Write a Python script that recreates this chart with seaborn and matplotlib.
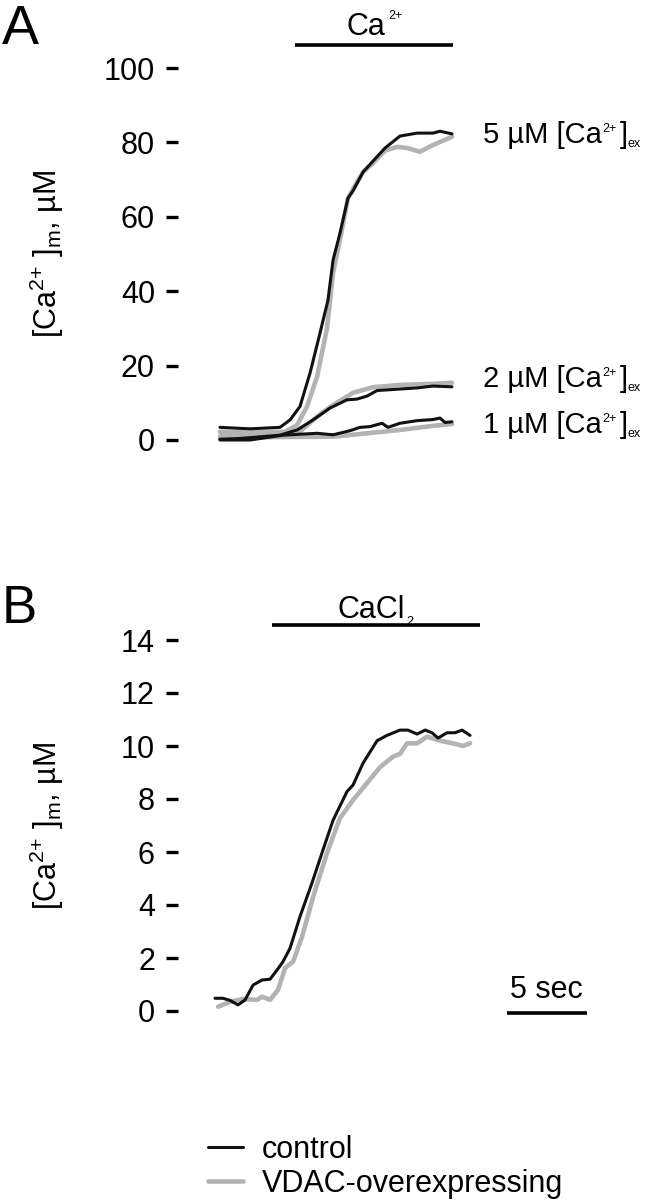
import matplotlib
matplotlib.use("Agg")
import matplotlib.pyplot as plt
import seaborn as sns
from matplotlib.lines import Line2D

# ---------------- data (time in s, [Ca2+]m in uM) ----------------
a5_ctrl_t = [0.31, 2.19, 4.06, 4.69, 5.31, 5.94, 6.56, 7.06, 7.38, 7.81, 8.31, 8.63, 9.25, 9.88, 10.63, 11.56, 12.63, 13.63, 14.06, 14.81]
a5_ctrl_v = [3.4, 3.0, 3.4, 5.4, 9.0, 18.0, 28.7, 37.6, 48.4, 55.6, 65.0, 67.0, 72.0, 75.0, 78.5, 81.7, 82.5, 82.5, 83.0, 82.3]
a5_vdac_t = [0.31, 2.19, 4.38, 5.13, 5.75, 6.38, 7.0, 7.38, 7.81, 8.31, 8.63, 9.25, 9.88, 10.63, 11.38, 12.0, 12.81, 13.63, 14.81]
a5_vdac_v = [2.2, 2.0, 2.2, 4.0, 9.0, 17.0, 30.0, 45.0, 53.8, 65.0, 67.5, 72.0, 74.5, 77.8, 78.8, 78.5, 77.5, 79.3, 81.5]

a2_ctrl_t = [0.31, 1.56, 4.06, 5.13, 6.13, 7.19, 8.25, 8.88, 9.5, 10.13, 11.56, 12.63, 13.63, 14.81]
a2_ctrl_v = [0.2, 0.4, 1.3, 2.7, 5.4, 8.6, 10.8, 11.0, 11.8, 13.3, 13.7, 14.0, 14.5, 14.3]
a2_vdac_t = [0.31, 2.19, 4.25, 5.31, 6.38, 7.38, 8.63, 9.88, 11.56, 13.63, 14.81]
a2_vdac_v = [1.0, 1.0, 1.5, 2.3, 6.3, 9.4, 12.7, 14.2, 14.8, 15.1, 15.4]

a1_ctrl_t = [0.31, 2.19, 4.25, 6.38, 7.38, 8.44, 9.06, 9.69, 10.44, 10.81, 11.56, 12.63, 13.63, 14.06, 14.38, 14.81]
a1_ctrl_v = [0.0, 0.0, 1.3, 1.8, 1.4, 2.5, 3.4, 3.6, 4.5, 3.4, 4.5, 5.2, 5.5, 5.9, 4.7, 4.9]
a1_vdac_t = [0.31, 4.06, 7.38, 9.5, 11.56, 13.63, 14.81]
a1_vdac_v = [0.5, 0.8, 0.9, 1.8, 2.7, 3.8, 4.3]

b_ctrl_t = [0.0, 0.5, 0.94, 1.44, 1.88, 2.38, 2.94, 3.44, 3.88, 4.25, 4.69, 5.31, 6.06, 6.75, 7.38,
            8.25, 8.63, 9.25, 10.13, 10.75, 11.56, 12.06, 12.63, 13.13, 13.56, 13.94, 14.5, 15.0, 15.44, 15.94]
b_ctrl_v = [0.48, 0.48, 0.40, 0.23, 0.42, 0.98, 1.17, 1.2, 1.55, 1.86, 2.37, 3.56, 4.83, 6.08, 7.2,
            8.28, 8.53, 9.35, 10.2, 10.4, 10.6, 10.6, 10.45, 10.6, 10.5, 10.3, 10.5, 10.5, 10.6, 10.4]
b_vdac_t = [0.19, 0.94, 1.75, 2.63, 2.94, 3.44, 3.94, 4.38, 4.88, 5.44, 6.13, 7.0, 7.81, 8.63, 9.5,
            10.31, 11.13, 11.56, 12.0, 12.63, 13.25, 14.06, 14.88, 15.5, 15.94]
b_vdac_v = [0.16, 0.35, 0.45, 0.42, 0.54, 0.42, 0.8, 1.62, 1.86, 2.8, 4.3, 5.96, 7.28, 7.96, 8.6,
            9.2, 9.6, 9.7, 10.1, 10.1, 10.35, 10.2, 10.1, 10.0, 10.1]

a_ticks = [0, 20, 40, 60, 80, 100]
b_ticks = [0, 2, 4, 6, 8, 10, 12, 14]
a_curve_conc = ["5 µM", "2 µM", "1 µM"]
a_curve_label_y = [79.8, 14.2, 1.9]
legend_labels = ["control", "VDAC-overexpressing"]
ylabel = r"[Ca$^{2{+}}$ ]$_{\rm m}$, µM"

# ---------------- style ----------------
sns.set_style("white")
plt.rcParams["font.family"] = ["Liberation Sans", "DejaVu Sans"]
plt.rcParams["mathtext.fontset"] = "custom"
plt.rcParams["mathtext.rm"] = "Liberation Sans"
plt.rcParams["mathtext.it"] = "Liberation Sans:italic"
plt.rcParams["mathtext.bf"] = "Liberation Sans:bold"
for k in ["text.color", "axes.labelcolor", "xtick.color", "ytick.color"]:
    plt.rcParams[k] = "black"

BLACK = "#111111"
GRAY = "#b3b3b3"
FS = 22
LFS = 21
SFS = 9
LW_B = 2.2
LW_G = 3.3

fig = plt.figure(figsize=(6.52, 12.0), dpi=100)
W, H = 652.0, 1200.0
PX_PER_S = 16.0
T0_PX = 215.0
AX_L, AX_R = 178.0, 600.0
xlim = ((AX_L - T0_PX) / PX_PER_S, (AX_R - T0_PX) / PX_PER_S)


def make_axes(top_px, bot_px, y0_px, ytop_px, ytop_val):
    ax = fig.add_axes([AX_L / W, 1 - bot_px / H, (AX_R - AX_L) / W, (bot_px - top_px) / H])
    scale = (y0_px - ytop_px) / ytop_val
    ax.set_xlim(*xlim)
    ax.set_ylim(-(bot_px - y0_px) / scale, ytop_val + (ytop_px - top_px) / scale)
    for s in ax.spines.values():
        s.set_visible(False)
    ax.set_xticks([])
    ax.tick_params(axis="y", direction="out", length=8.6, width=2.4, pad=8,
                   labelsize=FS, color="black", labelcolor="black", left=True)
    ax.patch.set_alpha(0)
    return ax


def trace(ax, t, v, color, lw):
    sns.lineplot(x=t, y=v, ax=ax, color=color, lw=lw, sort=False, estimator=None,
                 solid_capstyle="round", solid_joinstyle="round")


def rich(ax, x, y, pieces):
    """pieces: list of (text, fontsize, dx_pt, dy_pt); baseline of first at (x, y) data."""
    first = ax.text(x, y, pieces[0][0], fontsize=pieces[0][1], ha="left", va="baseline",
                    clip_on=False)
    prev = first
    for s, size, dx, dy in pieces[1:]:
        prev = ax.annotate(s, xy=(1, y), xycoords=(prev, "data"), xytext=(dx, dy),
                           textcoords="offset points", fontsize=size, ha="left",
                           va="baseline", annotation_clip=False)
    return first


# ---------------- panel A ----------------
axA = make_axes(10, 475, 440, 68, 100)
for (t, v) in [(a5_vdac_t, a5_vdac_v), (a2_vdac_t, a2_vdac_v), (a1_vdac_t, a1_vdac_v)]:
    trace(axA, t, v, GRAY, LW_G)
for (t, v) in [(a5_ctrl_t, a5_ctrl_v), (a2_ctrl_t, a2_ctrl_v), (a1_ctrl_t, a1_ctrl_v)]:
    trace(axA, t, v, BLACK, LW_B)
axA.set_yticks(a_ticks)
axA.set_yticklabels([str(x) for x in a_ticks])
axA.set_ylabel(ylabel, fontsize=FS)
yl = axA.get_ylim()
axA.yaxis.set_label_coords(-0.265, (50 - yl[0]) / (yl[1] - yl[0]))
for conc, yv in zip(a_curve_conc, a_curve_label_y):
    rich(axA, 16.75, yv, [(conc + " [Ca", LFS, 0, 0), ("2+", SFS, 0.6, 8.0),
                          ("]", LFS, 1.8, 0), ("ex", SFS, 0.2, -3.0)])
axA.plot([5.0, 14.88], [106.2, 106.2], color="black", lw=2.6, solid_capstyle="butt", clip_on=False)
rich(axA, 8.25, 108.9, [("Ca", FS, 0, 0), ("2+", SFS, 1.5, 11.5)])
fig.text(2 / W, 1 - 44 / H, "A", fontsize=40, ha="left", va="baseline")

# ---------------- panel B ----------------
axB = make_axes(600, 1030, 1011, 640, 14)
trace(axB, b_vdac_t, b_vdac_v, GRAY, LW_G)
trace(axB, b_ctrl_t, b_ctrl_v, BLACK, LW_B)
axB.set_yticks(b_ticks)
axB.set_yticklabels([str(x) for x in b_ticks])
axB.set_ylabel(ylabel, fontsize=FS)
yl = axB.get_ylim()
axB.yaxis.set_label_coords(-0.265, (7 - yl[0]) / (yl[1] - yl[0]))
axB.plot([3.56, 16.56], [14.57, 14.57], color="black", lw=2.6, solid_capstyle="butt", clip_on=False)
rich(axB, 7.63, 14.83, [("CaCl", FS, 0, 0), ("2", SFS, 1.5, -5.0)])
# 5 s scale bar
axB.plot([18.25, 23.25], [-0.06, -0.06], color="black", lw=2.6, solid_capstyle="butt", clip_on=False)
axB.text(18.44, 0.49, "5 sec", fontsize=FS, ha="left", va="baseline", clip_on=False)
fig.text(2 / W, 1 - 623 / H, "B", fontsize=38, ha="left", va="baseline")

# ---------------- legend ----------------
handles = [Line2D([], [], color=BLACK, lw=LW_B), Line2D([], [], color=GRAY, lw=LW_G)]
fig.legend(handles, legend_labels, loc="upper left", bbox_to_anchor=(208 / W, 1 - 1135 / H),
           frameon=False, fontsize=FS, handlelength=1.15, handletextpad=0.62,
           labelspacing=0.12, borderpad=0, borderaxespad=0)

fig.savefig("out.png", dpi=100)
